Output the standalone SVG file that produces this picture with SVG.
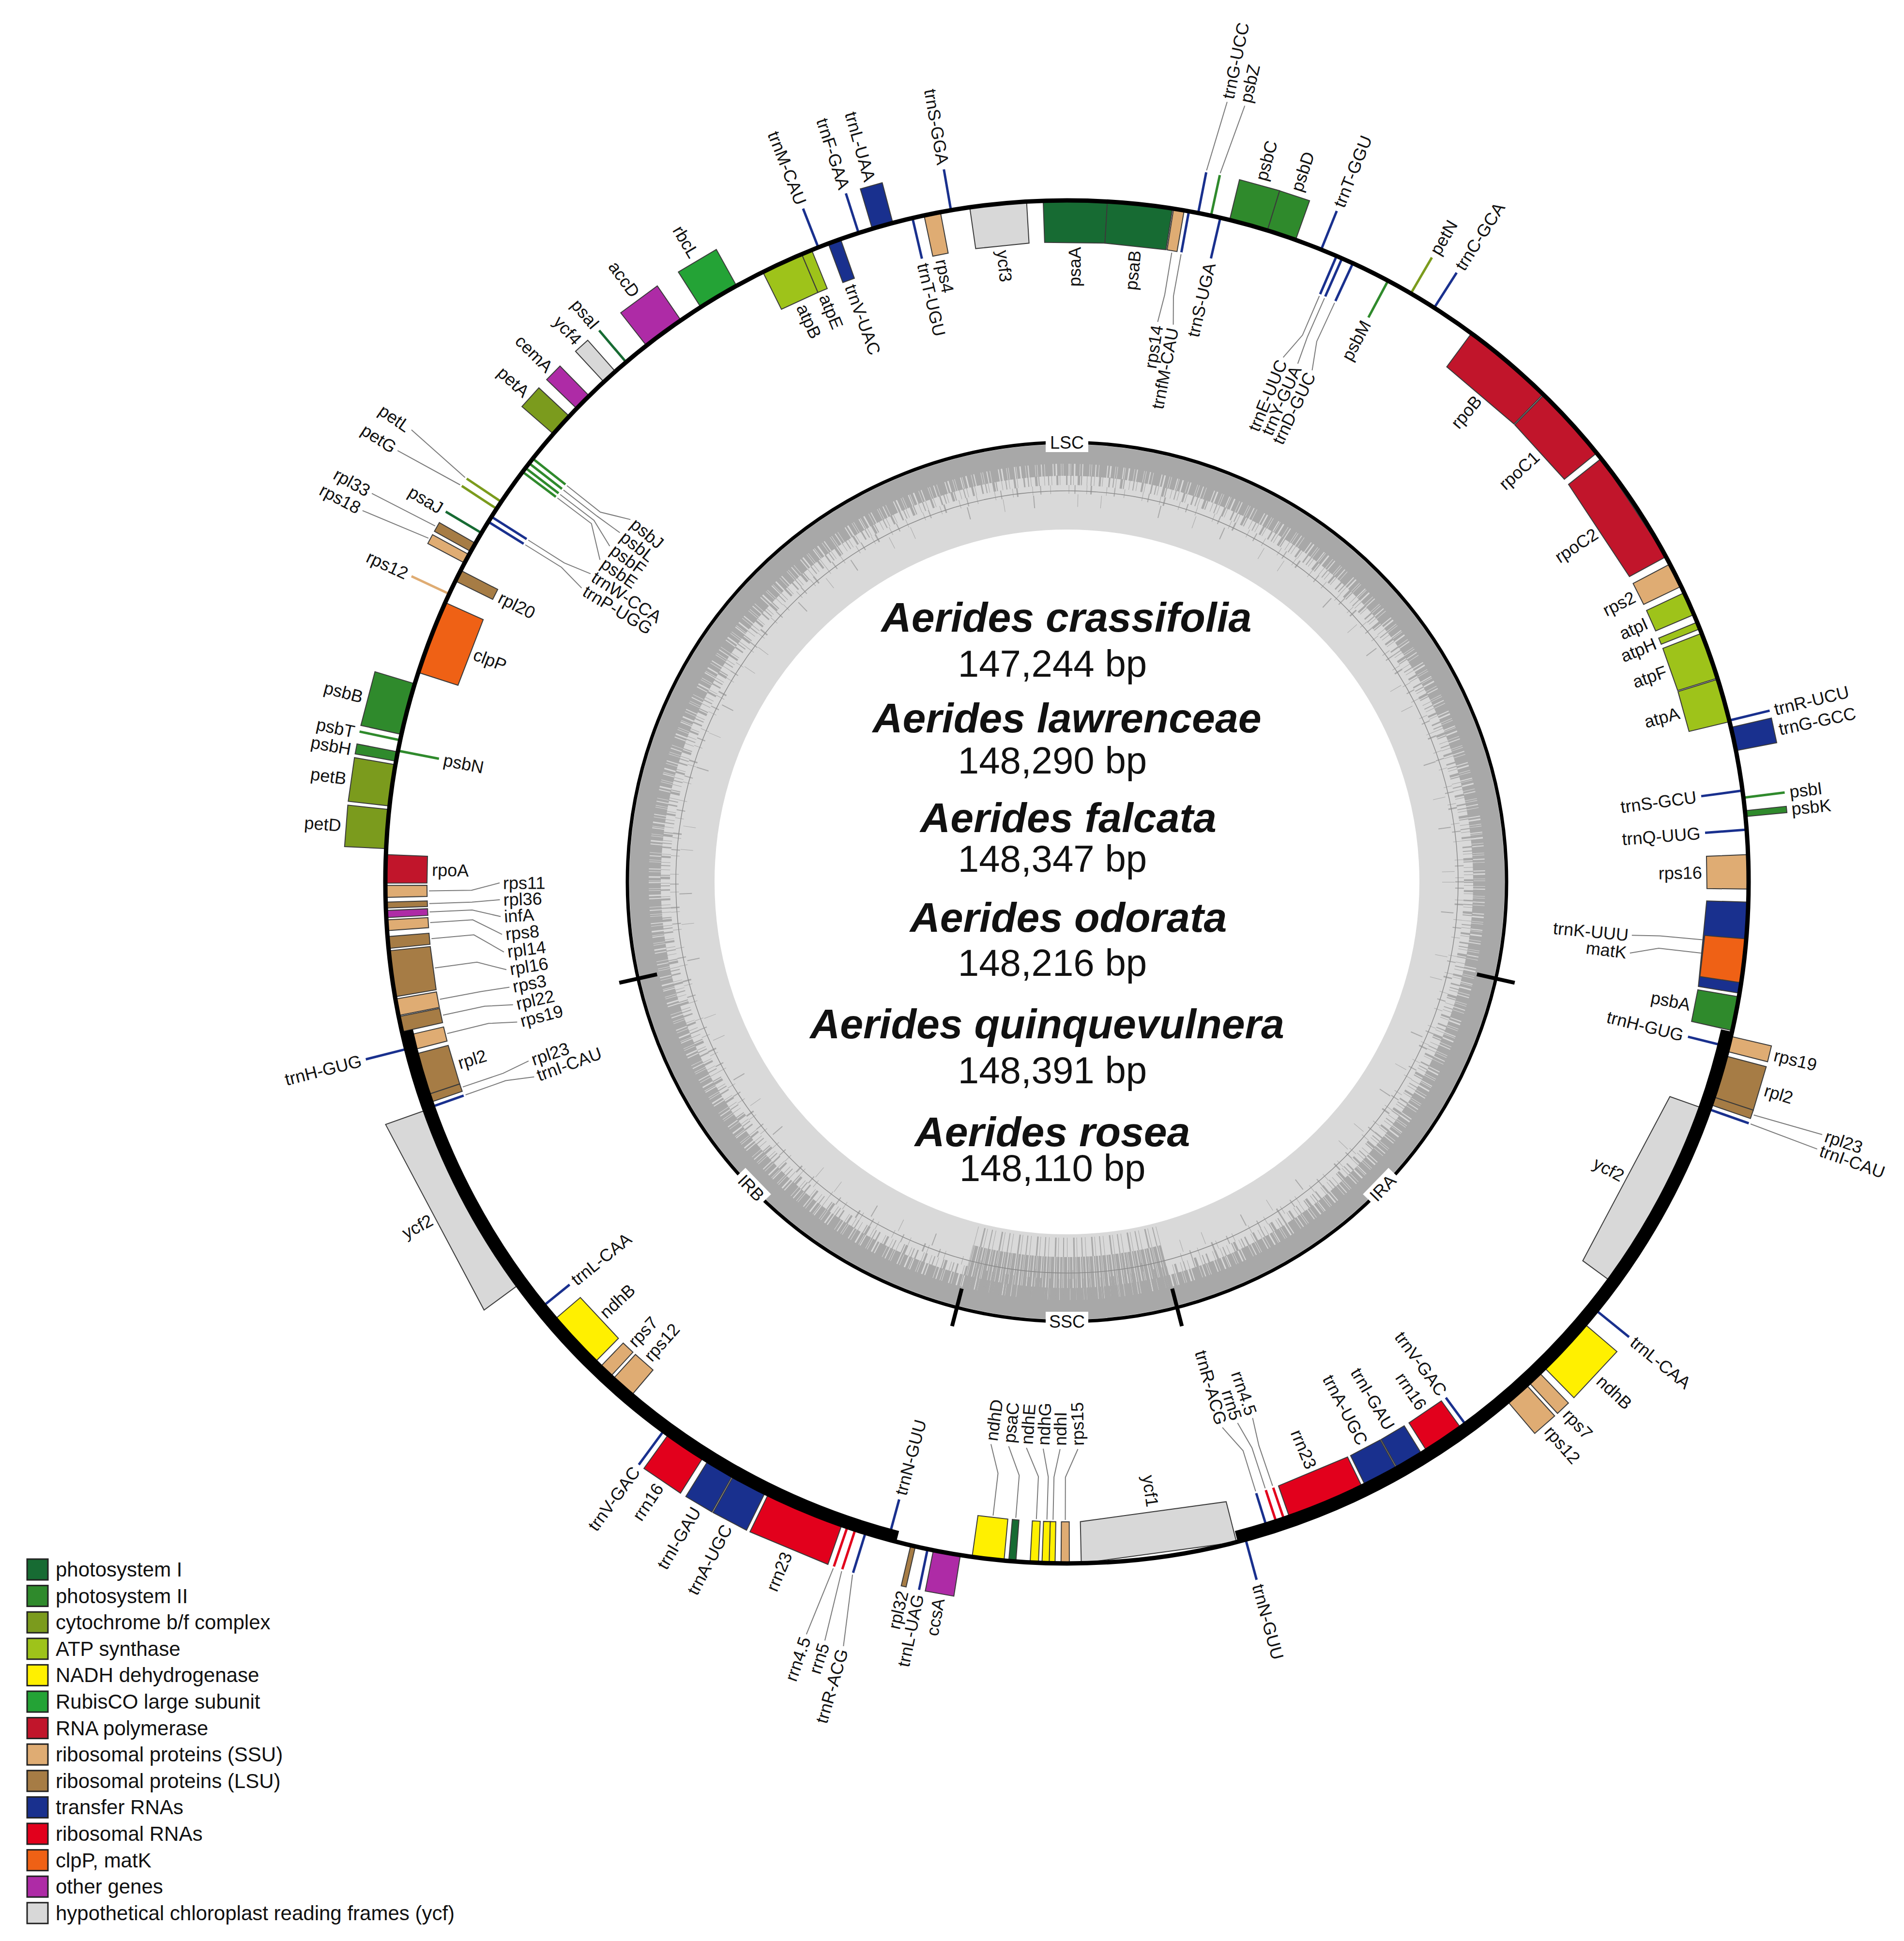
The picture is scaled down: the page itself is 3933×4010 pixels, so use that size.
<svg xmlns="http://www.w3.org/2000/svg" width="3933" height="4010" viewBox="0 0 3933 4010">
<style>
text{font-family:"Liberation Sans",Arial,Helvetica,sans-serif;fill:#111}
.t{font-size:36px}
.e{text-anchor:end}
.b{stroke:#3a3a3a;stroke-width:2}
.f1{fill:#176b33}.f2{fill:#2f8a2c}.f3{fill:#7b9b1d}.f4{fill:#9ec31a}.f5{fill:#fff000}.f6{fill:#24a336}.f7{fill:#c1152b}
.f8{fill:#dfac73}.f9{fill:#a67c45}.fa{fill:#19308e}.fb{fill:#e2001c}.fc{fill:#ef6115}.fd{fill:#ae2ba6}.fe{fill:#d8d8d8}
.k{fill:none;stroke-width:5}
.s1{stroke:#176b33}.s2{stroke:#2f8a2c}.s3{stroke:#7b9b1d}.s8{stroke:#dfac73}.sa{stroke:#19308e}.sb{stroke:#e2001c}
.ld{fill:none;stroke:#7a7a7a;stroke-width:2}
.sp{font-size:86px;font-weight:bold;font-style:italic;text-anchor:middle}
.bp{font-size:78px;text-anchor:middle}
.lg{stroke:#222;stroke-width:3}
.lt{font-size:42px}
.sec{font-size:36px;text-anchor:middle}
</style>
<rect width="3933" height="4010" fill="#fff"/>

<g id="gc-content" transform="translate(2204,1822)" fill="none">
<circle r="816" stroke="#d9d9d9" stroke-width="176"/>
<circle r="884" stroke="#a8a8a8" stroke-width="40"/>
<circle r="852" stroke="#a8a8a8" stroke-width="26" stroke-dasharray="9 1 4 2 13 1 3 1 7 2 5 1 16 2 4 3 8 1 3 1 11 2 2 1 6 3"/>
<circle r="830" stroke="#a8a8a8" stroke-width="20" stroke-dasharray="2 5 1 9 4 3 1 12 3 6 2 4 1 8 5 2 2 10 1 7"/>
<circle r="811" stroke="#a8a8a8" stroke-width="18" stroke-dasharray="1 11 2 23 1 7 3 30 1 15 2 19 1 37"/>
<circle r="788" stroke="#a8a8a8" stroke-width="26" stroke-dasharray="1 61 2 89 1 47 1 121 2 73"/>
<path d="M205.3,793.9A820,820 0 0 1 -205.3,793.9" stroke="#a8a8a8" stroke-width="90" stroke-dasharray="5 1 3 2 7 1 2 1 4 2"/>
<path d="M189,731A755,755 0 0 1 -189,731" stroke="#a8a8a8" stroke-width="40" stroke-dasharray="1 6 2 9 1 4 3 12"/>
<circle r="808" stroke="#8a8a8a" stroke-width="1.5"/>
<circle r="908" stroke="#000" stroke-width="7"/>
<g stroke="#000" stroke-width="8">
<path transform="rotate(102.7)" d="M0,-868V-948"/>
<path transform="rotate(165.5)" d="M0,-868V-948"/>
<path transform="rotate(194.5)" d="M0,-868V-948"/>
<path transform="rotate(257.3)" d="M0,-868V-948"/>
</g>
</g>

<g id="regions" transform="translate(2204,1822)">
<g id="LSC" transform="translate(0,-908)"><rect x="-44" y="-20" width="88" height="40" fill="#fff"/><text class="sec" y="13">LSC</text></g>
<g id="SSC" transform="translate(0,908)"><rect x="-44" y="-20" width="88" height="40" fill="#fff"/><text class="sec" y="13">SSC</text></g>
<g id="IRA" transform="rotate(-45.9)translate(0,908)"><rect x="-38" y="-20" width="76" height="40" fill="#fff"/><text class="sec" y="13">IRA</text></g>
<g id="IRB" transform="rotate(45.9)translate(0,908)"><rect x="-38" y="-20" width="76" height="40" fill="#fff"/><text class="sec" y="13">IRB</text></g>
</g>

<g id="species" >
<text class="sp" x="2203" y="1305">Aerides crassifolia</text>
<text class="bp" x="2174" y="1398">147,244 bp</text>
<text class="sp" x="2204" y="1513">Aerides lawrenceae</text>
<text class="bp" x="2174" y="1598">148,290 bp</text>
<text class="sp" x="2207" y="1719">Aerides falcata</text>
<text class="bp" x="2174" y="1801">148,347 bp</text>
<text class="sp" x="2207" y="1925">Aerides odorata</text>
<text class="bp" x="2174" y="2016">148,216 bp</text>
<text class="sp" x="2163" y="2145">Aerides quinquevulnera</text>
<text class="bp" x="2174" y="2238">148,391 bp</text>
<text class="sp" x="2174" y="2368">Aerides rosea</text>
<text class="bp" x="2174" y="2440">148,110 bp</text>
</g>

<g transform="translate(2204,1822)">
<g id="connectors">
<path class="ld" transform="rotate(9.45)" d="M0,-1318V-1230L-5.1,-1172"/>
<path class="ld" transform="rotate(10.3)" d="M0,-1318V-1230L10.2,-1172"/>
<path class="ld" transform="rotate(23.3)" d="M0,-1318V-1230L-18.4,-1171.9"/>
<path class="ld" transform="rotate(23.8)" d="M0,-1318V-1230L4.1,-1172"/>
<path class="ld" transform="rotate(24.8)" d="M0,-1318V-1230L16.4,-1171.9"/>
<path class="ld" transform="rotate(95.2)" d="M0,-1318V-1230L4.1,-1172"/>
<path class="ld" transform="rotate(96.4)" d="M0,-1318V-1230L16.4,-1171.9"/>
<path class="ld" transform="rotate(161.2)" d="M0,-1318V-1230L-6.1,-1172"/>
<path class="ld" transform="rotate(161.9)" d="M0,-1318V-1230L12.3,-1171.9"/>
<path class="ld" transform="rotate(162.8)" d="M0,-1318V-1230L26.6,-1171.7"/>
<path class="ld" transform="rotate(180.15)" d="M0,-1318V-1230L-25.6,-1171.7"/>
<path class="ld" transform="rotate(181.25)" d="M0,-1318V-1230L-11.3,-1171.9"/>
<path class="ld" transform="rotate(181.8)" d="M0,-1318V-1230L12.3,-1171.9"/>
<path class="ld" transform="rotate(182.75)" d="M0,-1318V-1230L27.6,-1171.7"/>
<path class="ld" transform="rotate(184.6)" d="M0,-1318V-1230L26.6,-1171.7"/>
<path class="ld" transform="rotate(186.65)" d="M0,-1318V-1230L21.5,-1171.8"/>
<path class="ld" transform="rotate(250.5)" d="M0,-1318V-1230L-12.3,-1171.9"/>
<path class="ld" transform="rotate(251.25)" d="M0,-1318V-1230L7.2,-1172"/>
<path class="ld" transform="rotate(256.25)" d="M0,-1318V-1230L-11.3,-1171.9"/>
<path class="ld" transform="rotate(257.95)" d="M0,-1318V-1230L-9.2,-1172"/>
<path class="ld" transform="rotate(259.4)" d="M0,-1318V-1230L-2,-1172"/>
<path class="ld" transform="rotate(262.25)" d="M0,-1318V-1230L-23.5,-1171.8"/>
<path class="ld" transform="rotate(264.9)" d="M0,-1318V-1230L-40.9,-1171.3"/>
<path class="ld" transform="rotate(266.35)" d="M0,-1318V-1230L-33.8,-1171.5"/>
<path class="ld" transform="rotate(267.3)" d="M0,-1318V-1230L-16.4,-1171.9"/>
<path class="ld" transform="rotate(268.05)" d="M0,-1318V-1230L3.1,-1172"/>
<path class="ld" transform="rotate(269.2)" d="M0,-1318V-1230L14.3,-1171.9"/>
<path class="ld" transform="rotate(301.9)" d="M0,-1318V-1230L-14.3,-1171.9"/>
<path class="ld" transform="rotate(302.4)" d="M0,-1318V-1230L10.2,-1172"/>
<path class="ld" transform="rotate(307)" d="M0,-1318V-1230L-49.1,-1171"/>
<path class="ld" transform="rotate(307.4)" d="M0,-1318V-1230L-22.5,-1171.8"/>
<path class="ld" transform="rotate(307.9)" d="M0,-1318V-1230L2,-1172"/>
<path class="ld" transform="rotate(308.4)" d="M0,-1318V-1230L26.6,-1171.7"/>
<path class="ld" transform="rotate(11.1)" d="M0,-1498L14.4,-1645"/>
<path class="ld" transform="rotate(12.2)" d="M0,-1498L20.1,-1644.9"/>
<path class="ld" transform="rotate(108.75)" d="M0,-1498L-7.2,-1645"/>
<path class="ld" transform="rotate(109.5)" d="M0,-1498L2.9,-1645"/>
<path class="ld" transform="rotate(197.2)" d="M0,-1498L-25.8,-1644.8"/>
<path class="ld" transform="rotate(198.1)" d="M0,-1498L-11.5,-1645"/>
<path class="ld" transform="rotate(198.8)" d="M0,-1498L8.6,-1645"/>
<path class="ld" transform="rotate(298.3)" d="M0,-1498L-14.4,-1645"/>
<path class="ld" transform="rotate(299.4)" d="M0,-1498L-5.7,-1645"/>
<path class="ld" transform="rotate(303.2)" d="M0,-1498L-11.5,-1645"/>
<path class="ld" transform="rotate(303.9)" d="M0,-1498L20.1,-1644.9"/>
</g>

<g id="genes">
<g id="psaA"><polygon class="b f1" transform="rotate(0.7)" points="-66.3,-1406.4 66.3,-1406.4 62.3,-1320.5 -62.3,-1320.5"/><text class="t e" transform="rotate(0.7)translate(0,-1312)rotate(-90)" dy=".35em">psaA</text></g>
<g id="psaB"><polygon class="b f1" transform="rotate(6.15)" points="-67.6,-1406.4 67.6,-1406.4 63.4,-1320.5 -63.4,-1320.5"/><text class="t e" transform="rotate(6.15)translate(0,-1312)rotate(-90)" dy=".35em">psaB</text></g>
<g id="rps14"><polygon class="b f8" transform="rotate(9.45)" points="-11.1,-1408 11.1,-1408 10.4,-1322 -10.4,-1322"/><text class="t e" transform="rotate(9.2)translate(0,-1165)rotate(-90)" dy=".35em">rps14</text></g>
<g id="trnfM-CAU"><path class="k sa" transform="rotate(10.3)" d="M0,-1408V-1322"/><text class="t e" transform="rotate(10.8)translate(0,-1165)rotate(-90)" dy=".35em">trnfM-CAU</text></g>
<g id="trnG-UCC"><path class="k sa" transform="rotate(11.1)" d="M0,-1408V-1494"/><text class="t" transform="rotate(11.6)translate(0,-1652)rotate(-90)" dy=".35em">trnG-UCC</text></g>
<g id="psbZ"><path class="k s2" transform="rotate(12.2)" d="M0,-1408V-1494"/><text class="t" transform="rotate(12.9)translate(0,-1652)rotate(-90)" dy=".35em">psbZ</text></g>
<g id="trnS-UGA"><path class="k sa" transform="rotate(13)" d="M0,-1408V-1322"/><text class="t e" transform="rotate(13)translate(0,-1312)rotate(-90)" dy=".35em">trnS-UGA</text></g>
<g id="psbC"><polygon class="b f2" transform="rotate(15.45)" points="-43,-1493.4 43,-1493.4 40.5,-1407.4 -40.5,-1407.4"/><text class="t" transform="rotate(15.45)translate(0,-1504)rotate(-90)" dy=".35em">psbC</text></g>
<g id="psbD"><polygon class="b f2" transform="rotate(18.35)" points="-32.6,-1493.6 32.6,-1493.6 30.7,-1407.7 -30.7,-1407.7"/><text class="t" transform="rotate(18.35)translate(0,-1504)rotate(-90)" dy=".35em">psbD</text></g>
<g id="trnT-GGU"><path class="k sa" transform="rotate(21.9)" d="M0,-1408V-1494"/><text class="t" transform="rotate(21.9)translate(0,-1504)rotate(-90)" dy=".35em">trnT-GGU</text></g>
<g id="trnE-UUC"><path class="k sa" transform="rotate(23.3)" d="M0,-1408V-1322"/><text class="t e" transform="rotate(22.4)translate(0,-1165)rotate(-90)" dy=".35em">trnE-UUC</text></g>
<g id="trnY-GUA"><path class="k sa" transform="rotate(23.8)" d="M0,-1408V-1322"/><text class="t e" transform="rotate(24)translate(0,-1165)rotate(-90)" dy=".35em">trnY-GUA</text></g>
<g id="trnD-GUC"><path class="k sa" transform="rotate(24.8)" d="M0,-1408V-1322"/><text class="t e" transform="rotate(25.6)translate(0,-1165)rotate(-90)" dy=".35em">trnD-GUC</text></g>
<g id="psbM"><path class="k s2" transform="rotate(28.1)" d="M0,-1408V-1322"/><text class="t e" transform="rotate(28.1)translate(0,-1312)rotate(-90)" dy=".35em">psbM</text></g>
<g id="petN"><path class="k s3" transform="rotate(30.3)" d="M0,-1408V-1494"/><text class="t" transform="rotate(30.3)translate(0,-1504)rotate(-90)" dy=".35em">petN</text></g>
<g id="trnC-GCA"><path class="k sa" transform="rotate(32.6)" d="M0,-1408V-1494"/><text class="t" transform="rotate(32.6)translate(0,-1504)rotate(-90)" dy=".35em">trnC-GCA</text></g>
<g id="rpoB"><polygon class="b f7" transform="rotate(40.35)" points="-97,-1404.6 97,-1404.6 91.1,-1318.9 -91.1,-1318.9"/><text class="t e" transform="rotate(40.35)translate(0,-1312)rotate(-90)" dy=".35em">rpoB</text></g>
<g id="rpoC1"><polygon class="b f7" transform="rotate(47.7)" points="-81,-1405.7 81,-1405.7 76.1,-1319.8 -76.1,-1319.8"/><text class="t e" transform="rotate(47.7)translate(0,-1312)rotate(-90)" dy=".35em">rpoC1</text></g>
<g id="rpoC2"><polygon class="b f7" transform="rotate(56.55)" points="-121.5,-1402.7 121.5,-1402.7 114.1,-1317.1 -114.1,-1317.1"/><text class="t e" transform="rotate(56.55)translate(0,-1310)rotate(-90)" dy=".35em">rpoC2</text></g>
<g id="rps2"><polygon class="b f8" transform="rotate(63.25)" points="-25.8,-1407.8 25.8,-1407.8 24.2,-1321.8 -24.2,-1321.8"/><text class="t e" transform="rotate(63.25)translate(0,-1312)rotate(-90)" dy=".35em">rps2</text></g>
<g id="atpI"><polygon class="b f4" transform="rotate(65.9)" points="-24.6,-1407.8 24.6,-1407.8 23.1,-1321.8 -23.1,-1321.8"/><text class="t e" transform="rotate(65.9)translate(0,-1312)rotate(-90)" dy=".35em">atpI</text></g>
<g id="atpH"><polygon class="b f4" transform="rotate(67.9)" points="-7.4,-1408 7.4,-1408 6.9,-1322 -6.9,-1322"/><text class="t e" transform="rotate(67.9)translate(0,-1312)rotate(-90)" dy=".35em">atpH</text></g>
<g id="atpF"><polygon class="b f4" transform="rotate(70.6)" points="-49.1,-1407.1 49.1,-1407.1 46.1,-1321.2 -46.1,-1321.2"/><text class="t e" transform="rotate(70.6)translate(0,-1312)rotate(-90)" dy=".35em">atpF</text></g>
<g id="atpA"><polygon class="b f4" transform="rotate(74.55)" points="-45.5,-1407.3 45.5,-1407.3 42.7,-1321.3 -42.7,-1321.3"/><text class="t e" transform="rotate(74.55)translate(0,-1312)rotate(-90)" dy=".35em">atpA</text></g>
<g id="trnR-UCU"><path class="k sa" transform="rotate(76.3)" d="M0,-1408V-1494"/><text class="t" transform="rotate(76.3)translate(0,-1504)rotate(-90)" dy=".35em">trnR-UCU</text></g>
<g id="trnG-GCC"><polygon class="b fa" transform="rotate(77.9)" points="-26.1,-1493.8 26.1,-1493.8 24.6,-1407.8 -24.6,-1407.8"/><text class="t" transform="rotate(77.9)translate(0,-1504)rotate(-90)" dy=".35em">trnG-GCC</text></g>
<g id="trnS-GCU"><path class="k sa" transform="rotate(82.3)" d="M0,-1408V-1322"/><text class="t e" transform="rotate(82.3)translate(0,-1312)rotate(-90)" dy=".35em">trnS-GCU</text></g>
<g id="psbI"><path class="k s2" transform="rotate(82.9)" d="M0,-1408V-1494"/><text class="t" transform="rotate(82.9)translate(0,-1504)rotate(-90)" dy=".35em">psbI</text></g>
<g id="psbK"><polygon class="b f2" transform="rotate(84.25)" points="-6.5,-1494 6.5,-1494 6.1,-1408 -6.1,-1408"/><text class="t" transform="rotate(84.25)translate(0,-1504)rotate(-90)" dy=".35em">psbK</text></g>
<g id="trnQ-UUG"><path class="k sa" transform="rotate(85.6)" d="M0,-1408V-1322"/><text class="t e" transform="rotate(85.6)translate(0,-1312)rotate(-90)" dy=".35em">trnQ-UUG</text></g>
<g id="rps16"><polygon class="b f8" transform="rotate(89.15)" points="-35.6,-1407.5 35.6,-1407.5 33.4,-1321.6 -33.4,-1321.6"/><text class="t e" transform="rotate(89.15)translate(0,-1312)rotate(-90)" dy=".35em">rps16</text></g>
<g id="trnK-UUU"><polygon class="b fa" transform="rotate(95.55)" points="-94.5,-1404.8 94.5,-1404.8 88.8,-1319 -88.8,-1319"/><text class="t e" transform="rotate(95.4)translate(0,-1165)rotate(-90)" dy=".35em">trnK-UUU</text></g>
<g id="matK"><polygon class="b fc" transform="rotate(96.65)" points="-45.5,-1405 45.5,-1405 42.7,-1321.3 -42.7,-1321.3"/><text class="t e" transform="rotate(97.2)translate(0,-1165)rotate(-90)" dy=".35em">matK</text></g>
<g id="psbA"><polygon class="b f2" transform="rotate(101.15)" points="-35.6,-1407.5 35.6,-1407.5 33.4,-1321.6 -33.4,-1321.6"/><text class="t e" transform="rotate(101.15)translate(0,-1312)rotate(-90)" dy=".35em">psbA</text></g>
<g id="rps19-IRA"><polygon class="b f8" transform="rotate(103.75)" points="-16.9,-1494 16.9,-1494 16,-1408 -16,-1408"/><text class="t" transform="rotate(103.75)translate(0,-1504)rotate(-90)" dy=".35em">rps19</text></g>
<g id="trnH-GUG-IRA"><path class="k sa" transform="rotate(104)" d="M0,-1408V-1322"/><text class="t e" transform="rotate(104)translate(0,-1312)rotate(-90)" dy=".35em">trnH-GUG</text></g>
<g id="rpl2-IRA"><polygon class="b f9" transform="rotate(106.6)" points="-46.9,-1493.3 46.9,-1493.3 44.2,-1407.3 -44.2,-1407.3"/><text class="t" transform="rotate(106.6)translate(0,-1504)rotate(-90)" dy=".35em">rpl2</text></g>
<g id="rpl23-IRA"><polygon class="b f9" transform="rotate(108.75)" points="-9.1,-1494 9.1,-1494 8.6,-1408 -8.6,-1408"/><text class="t" transform="rotate(108.5)translate(0,-1652)rotate(-90)" dy=".35em">rpl23</text></g>
<g id="trnI-CAU-IRA"><path class="k sa" transform="rotate(109.5)" d="M0,-1408V-1494"/><text class="t" transform="rotate(109.6)translate(0,-1652)rotate(-90)" dy=".35em">trnI-CAU</text></g>
<g id="ycf2-IRA"><polygon class="b fe" transform="rotate(117.95)" points="-204.5,-1393.1 204.5,-1393.1 192,-1308 -192,-1308"/><text class="t e" transform="rotate(117.95)translate(0,-1300)rotate(-90)" dy=".35em">ycf2</text></g>
<g id="trnL-CAA-IRA"><path class="k sa" transform="rotate(129)" d="M0,-1408V-1494"/><text class="t" transform="rotate(129)translate(0,-1504)rotate(-90)" dy=".35em">trnL-CAA</text></g>
<g id="ndhB-IRA"><polygon class="b f5" transform="rotate(133)" points="-65.2,-1492.6 65.2,-1492.6 61.4,-1406.7 -61.4,-1406.7"/><text class="t" transform="rotate(133)translate(0,-1504)rotate(-90)" dy=".35em">ndhB</text></g>
<g id="rps7-IRA"><polygon class="b f8" transform="rotate(136.7)" points="-15.6,-1494 15.6,-1494 14.7,-1408 -14.7,-1408"/><text class="t" transform="rotate(136.7)translate(0,-1504)rotate(-90)" dy=".35em">rps7</text></g>
<g id="rps12-IRA"><polygon class="b f8" transform="rotate(138.65)" points="-27.4,-1493.7 27.4,-1493.7 25.8,-1407.8 -25.8,-1407.8"/><text class="t" transform="rotate(138.65)translate(0,-1504)rotate(-90)" dy=".35em">rps12</text></g>
<g id="trnV-GAC-IRA"><path class="k sa" transform="rotate(143.7)" d="M0,-1408V-1322"/><text class="t e" transform="rotate(143.7)translate(0,-1312)rotate(-90)" dy=".35em">trnV-GAC</text></g>
<g id="rrn16-IRA"><polygon class="b fb" transform="rotate(145.95)" points="-43,-1407.3 43,-1407.3 40.4,-1321.4 -40.4,-1321.4"/><text class="t e" transform="rotate(145.95)translate(0,-1312)rotate(-90)" dy=".35em">rrn16</text></g>
<g id="trnI-GAU-IRA"><polygon class="b fa" transform="rotate(149.4)" points="-29.5,-1407.7 29.5,-1407.7 27.7,-1321.7 -27.7,-1321.7"/><text class="t e" transform="rotate(149.4)translate(0,-1312)rotate(-90)" dy=".35em">trnI-GAU</text></g>
<g id="trnA-UGC-IRA"><polygon class="b fa" transform="rotate(152.2)" points="-36.9,-1407.5 36.9,-1407.5 34.6,-1321.6 -34.6,-1321.6"/><text class="t e" transform="rotate(152.2)translate(0,-1312)rotate(-90)" dy=".35em">trnA-UGC</text></g>
<g id="rrn23-IRA"><polygon class="b fb" transform="rotate(157.35)" points="-82.3,-1405.6 82.3,-1405.6 77.3,-1319.7 -77.3,-1319.7"/><text class="t e" transform="rotate(157.35)translate(0,-1312)rotate(-90)" dy=".35em">rrn23</text></g>
<g id="rrn4.5-IRA"><path class="k sb" transform="rotate(161.2)" d="M0,-1408V-1322"/><text class="t e" transform="rotate(160.9)translate(0,-1165)rotate(-90)" dy=".35em">rrn4.5</text></g>
<g id="rrn5-IRA"><path class="k sb" transform="rotate(161.9)" d="M0,-1408V-1322"/><text class="t e" transform="rotate(162.5)translate(0,-1165)rotate(-90)" dy=".35em">rrn5</text></g>
<g id="trnR-ACG-IRA"><path class="k sa" transform="rotate(162.8)" d="M0,-1408V-1322"/><text class="t e" transform="rotate(164.1)translate(0,-1165)rotate(-90)" dy=".35em">trnR-ACG</text></g>
<g id="trnN-GUU-IRA"><path class="k sa" transform="rotate(164.8)" d="M0,-1408V-1494"/><text class="t" transform="rotate(164.8)translate(0,-1504)rotate(-90)" dy=".35em">trnN-GUU</text></g>
<g id="ycf1"><polygon class="b fe" transform="rotate(172.2)" points="-161.8,-1398.7 161.8,-1398.7 152,-1313.2 -152,-1313.2"/><text class="t e" transform="rotate(172.2)translate(0,-1303)rotate(-90)" dy=".35em">ycf1</text></g>
<g id="rps15"><polygon class="b f8" transform="rotate(180.15)" points="-8.6,-1408 8.6,-1408 8.1,-1322 -8.1,-1322"/><text class="t" transform="rotate(178.9)translate(0,-1165)rotate(90)" dy=".35em">rps15</text></g>
<g id="ndhI"><polygon class="b f5" transform="rotate(181.25)" points="-6.1,-1408 6.1,-1408 5.8,-1322 -5.8,-1322"/><text class="t" transform="rotate(180.7)translate(0,-1165)rotate(90)" dy=".35em">ndhI</text></g>
<g id="ndhG"><polygon class="b f5" transform="rotate(181.8)" points="-7.4,-1408 7.4,-1408 6.9,-1322 -6.9,-1322"/><text class="t" transform="rotate(182.4)translate(0,-1165)rotate(90)" dy=".35em">ndhG</text></g>
<g id="ndhE"><polygon class="b f5" transform="rotate(182.75)" points="-8.6,-1408 8.6,-1408 8.1,-1322 -8.1,-1322"/><text class="t" transform="rotate(184.1)translate(0,-1165)rotate(90)" dy=".35em">ndhE</text></g>
<g id="psaC"><polygon class="b f1" transform="rotate(184.6)" points="-7.4,-1408 7.4,-1408 6.9,-1322 -6.9,-1322"/><text class="t" transform="rotate(185.9)translate(0,-1165)rotate(90)" dy=".35em">psaC</text></g>
<g id="ndhD"><polygon class="b f5" transform="rotate(186.65)" points="-33.2,-1407.6 33.2,-1407.6 31.1,-1321.6 -31.1,-1321.6"/><text class="t" transform="rotate(187.7)translate(0,-1165)rotate(90)" dy=".35em">ndhD</text></g>
<g id="ccsA"><polygon class="b fd" transform="rotate(190.15)" points="-30,-1493.7 30,-1493.7 28.3,-1407.7 -28.3,-1407.7"/><text class="t e" transform="rotate(190.15)translate(0,-1504)rotate(90)" dy=".35em">ccsA</text></g>
<g id="trnL-UAG"><path class="k sa" transform="rotate(191.8)" d="M0,-1408V-1494"/><text class="t e" transform="rotate(191.8)translate(0,-1504)rotate(90)" dy=".35em">trnL-UAG</text></g>
<g id="rpl32"><polygon class="b f9" transform="rotate(193.05)" points="-5.2,-1494 5.2,-1494 4.9,-1408 -4.9,-1408"/><text class="t e" transform="rotate(193.05)translate(0,-1504)rotate(90)" dy=".35em">rpl32</text></g>
<g id="trnN-GUU-IRB"><path class="k sa" transform="rotate(195.2)" d="M0,-1408V-1322"/><text class="t" transform="rotate(195.2)translate(0,-1312)rotate(90)" dy=".35em">trnN-GUU</text></g>
<g id="trnR-ACG-IRB"><path class="k sa" transform="rotate(197.2)" d="M0,-1408V-1494"/><text class="t e" transform="rotate(196.3)translate(0,-1652)rotate(90)" dy=".35em">trnR-ACG</text></g>
<g id="rrn5-IRB"><path class="k sb" transform="rotate(198.1)" d="M0,-1408V-1494"/><text class="t e" transform="rotate(197.7)translate(0,-1652)rotate(90)" dy=".35em">rrn5</text></g>
<g id="rrn4.5-IRB"><path class="k sb" transform="rotate(198.8)" d="M0,-1408V-1494"/><text class="t e" transform="rotate(199.1)translate(0,-1652)rotate(90)" dy=".35em">rrn4.5</text></g>
<g id="rrn23-IRB"><polygon class="b fb" transform="rotate(202.65)" points="-87.3,-1491.4 87.3,-1491.4 82.3,-1405.6 -82.3,-1405.6"/><text class="t e" transform="rotate(202.65)translate(0,-1502)rotate(90)" dy=".35em">rrn23</text></g>
<g id="trnA-UGC-IRB"><polygon class="b fa" transform="rotate(207.8)" points="-39.1,-1493.5 39.1,-1493.5 36.9,-1407.5 -36.9,-1407.5"/><text class="t e" transform="rotate(207.8)translate(0,-1504)rotate(90)" dy=".35em">trnA-UGC</text></g>
<g id="trnI-GAU-IRB"><polygon class="b fa" transform="rotate(210.6)" points="-31.3,-1493.7 31.3,-1493.7 29.5,-1407.7 -29.5,-1407.7"/><text class="t e" transform="rotate(210.6)translate(0,-1504)rotate(90)" dy=".35em">trnI-GAU</text></g>
<g id="rrn16-IRB"><polygon class="b fb" transform="rotate(214.05)" points="-45.6,-1493.3 45.6,-1493.3 43,-1407.3 -43,-1407.3"/><text class="t e" transform="rotate(214.05)translate(0,-1504)rotate(90)" dy=".35em">rrn16</text></g>
<g id="trnV-GAC-IRB"><path class="k sa" transform="rotate(216.3)" d="M0,-1408V-1494"/><text class="t e" transform="rotate(216.3)translate(0,-1504)rotate(90)" dy=".35em">trnV-GAC</text></g>
<g id="rps12-IRB"><polygon class="b f8" transform="rotate(221.35)" points="-25.8,-1407.8 25.8,-1407.8 24.2,-1321.8 -24.2,-1321.8"/><text class="t" transform="rotate(221.35)translate(0,-1312)rotate(90)" dy=".35em">rps12</text></g>
<g id="rps7-IRB"><polygon class="b f8" transform="rotate(223.3)" points="-14.7,-1408 14.7,-1408 13.8,-1322 -13.8,-1322"/><text class="t" transform="rotate(223.3)translate(0,-1312)rotate(90)" dy=".35em">rps7</text></g>
<g id="ndhB-IRB"><polygon class="b f5" transform="rotate(227)" points="-61.4,-1406.7 61.4,-1406.7 57.7,-1320.7 -57.7,-1320.7"/><text class="t" transform="rotate(227)translate(0,-1312)rotate(90)" dy=".35em">ndhB</text></g>
<g id="trnL-CAA-IRB"><path class="k sa" transform="rotate(231)" d="M0,-1408V-1322"/><text class="t" transform="rotate(231)translate(0,-1312)rotate(90)" dy=".35em">trnL-CAA</text></g>
<g id="ycf2-IRB"><polygon class="b fe" transform="rotate(242.05)" points="-217,-1478.2 217,-1478.2 204.5,-1393.1 -204.5,-1393.1"/><text class="t e" transform="rotate(242.05)translate(0,-1486)rotate(90)" dy=".35em">ycf2</text></g>
<g id="trnI-CAU-IRB"><path class="k sa" transform="rotate(250.5)" d="M0,-1408V-1322"/><text class="t" transform="rotate(249.9)translate(0,-1165)rotate(90)" dy=".35em">trnI-CAU</text></g>
<g id="rpl23-IRB"><polygon class="b f9" transform="rotate(251.25)" points="-8.6,-1408 8.6,-1408 8.1,-1322 -8.1,-1322"/><text class="t" transform="rotate(251.6)translate(0,-1165)rotate(90)" dy=".35em">rpl23</text></g>
<g id="rpl2-IRB"><polygon class="b f9" transform="rotate(253.4)" points="-44.2,-1407.3 44.2,-1407.3 41.5,-1321.4 -41.5,-1321.4"/><text class="t" transform="rotate(253.4)translate(0,-1312)rotate(90)" dy=".35em">rpl2</text></g>
<g id="trnH-GUG-IRB"><path class="k sa" transform="rotate(255.8)" d="M0,-1408V-1494"/><text class="t e" transform="rotate(255.8)translate(0,-1504)rotate(90)" dy=".35em">trnH-GUG</text></g>
<g id="rps19-IRB"><polygon class="b f8" transform="rotate(256.25)" points="-16,-1408 16,-1408 15,-1322 -15,-1322"/><text class="t" transform="rotate(255.7)translate(0,-1165)rotate(90)" dy=".35em">rps19</text></g>
<g id="rpl22"><polygon class="b f9" transform="rotate(257.95)" points="-16,-1408 16,-1408 15,-1322 -15,-1322"/><text class="t" transform="rotate(257.5)translate(0,-1165)rotate(90)" dy=".35em">rpl22</text></g>
<g id="rps3"><polygon class="b f8" transform="rotate(259.4)" points="-17.2,-1408 17.2,-1408 16.2,-1322 -16.2,-1322"/><text class="t" transform="rotate(259.3)translate(0,-1165)rotate(90)" dy=".35em">rps3</text></g>
<g id="rpl16"><polygon class="b f9" transform="rotate(262.25)" points="-47.9,-1407.2 47.9,-1407.2 45,-1321.2 -45,-1321.2"/><text class="t" transform="rotate(261.1)translate(0,-1165)rotate(90)" dy=".35em">rpl16</text></g>
<g id="rpl14"><polygon class="b f9" transform="rotate(264.9)" points="-12.3,-1408 12.3,-1408 11.5,-1322 -11.5,-1322"/><text class="t" transform="rotate(262.9)translate(0,-1165)rotate(90)" dy=".35em">rpl14</text></g>
<g id="rps8"><polygon class="b f8" transform="rotate(266.35)" points="-11.1,-1408 11.1,-1408 10.4,-1322 -10.4,-1322"/><text class="t" transform="rotate(264.7)translate(0,-1165)rotate(90)" dy=".35em">rps8</text></g>
<g id="infA"><polygon class="b fd" transform="rotate(267.3)" points="-7.4,-1408 7.4,-1408 6.9,-1322 -6.9,-1322"/><text class="t" transform="rotate(266.5)translate(0,-1165)rotate(90)" dy=".35em">infA</text></g>
<g id="rpl36"><polygon class="b f9" transform="rotate(268.05)" points="-6.1,-1408 6.1,-1408 5.8,-1322 -5.8,-1322"/><text class="t" transform="rotate(268.2)translate(0,-1165)rotate(90)" dy=".35em">rpl36</text></g>
<g id="rps11"><polygon class="b f8" transform="rotate(269.2)" points="-12.3,-1408 12.3,-1408 11.5,-1322 -11.5,-1322"/><text class="t" transform="rotate(269.9)translate(0,-1165)rotate(90)" dy=".35em">rps11</text></g>
<g id="rpoA"><polygon class="b f7" transform="rotate(271.1)" points="-29.5,-1407.7 29.5,-1407.7 27.7,-1321.7 -27.7,-1321.7"/><text class="t" transform="rotate(271.1)translate(0,-1312)rotate(90)" dy=".35em">rpoA</text></g>
<g id="petD"><polygon class="b f3" transform="rotate(274.45)" points="-43,-1493.4 43,-1493.4 40.5,-1407.4 -40.5,-1407.4"/><text class="t e" transform="rotate(274.45)translate(0,-1504)rotate(90)" dy=".35em">petD</text></g>
<g id="petB"><polygon class="b f3" transform="rotate(278.15)" points="-45.6,-1493.3 45.6,-1493.3 43,-1407.3 -43,-1407.3"/><text class="t e" transform="rotate(278.15)translate(0,-1504)rotate(90)" dy=".35em">petB</text></g>
<g id="psbH"><polygon class="b f2" transform="rotate(280.6)" points="-10.4,-1494 10.4,-1494 9.8,-1408 -9.8,-1408"/><text class="t e" transform="rotate(280.5)translate(0,-1504)rotate(90)" dy=".35em">psbH</text></g>
<g id="psbN"><path class="k s2" transform="rotate(281.1)" d="M0,-1408V-1322"/><text class="t" transform="rotate(281.1)translate(0,-1312)rotate(90)" dy=".35em">psbN</text></g>
<g id="psbT"><path class="k s2" transform="rotate(282)" d="M0,-1408V-1494"/><text class="t e" transform="rotate(281.9)translate(0,-1504)rotate(90)" dy=".35em">psbT</text></g>
<g id="psbB"><polygon class="b f2" transform="rotate(284.7)" points="-57.4,-1492.9 57.4,-1492.9 54.1,-1407 -54.1,-1407"/><text class="t e" transform="rotate(284.7)translate(0,-1504)rotate(90)" dy=".35em">psbB</text></g>
<g id="clpP"><polygon class="b fc" transform="rotate(291.05)" points="-77.4,-1405.9 77.4,-1405.9 72.6,-1320 -72.6,-1320"/><text class="t" transform="rotate(291.05)translate(0,-1312)rotate(90)" dy=".35em">clpP</text></g>
<g id="rps12-5end"><path class="k s8" transform="rotate(295)" d="M0,-1408V-1494"/><text class="t e" transform="rotate(295)translate(0,-1504)rotate(90)" dy=".35em">rps12</text></g>
<g id="rpl20"><polygon class="b f9" transform="rotate(296.7)" points="-12.3,-1408 12.3,-1408 11.5,-1322 -11.5,-1322"/><text class="t" transform="rotate(296.7)translate(0,-1312)rotate(90)" dy=".35em">rpl20</text></g>
<g id="rps18"><polygon class="b f8" transform="rotate(298.3)" points="-10.4,-1494 10.4,-1494 9.8,-1408 -9.8,-1408"/><text class="t e" transform="rotate(297.8)translate(0,-1652)rotate(90)" dy=".35em">rps18</text></g>
<g id="rpl33"><polygon class="b f9" transform="rotate(299.4)" points="-10.4,-1494 10.4,-1494 9.8,-1408 -9.8,-1408"/><text class="t e" transform="rotate(299.2)translate(0,-1652)rotate(90)" dy=".35em">rpl33</text></g>
<g id="psaJ"><path class="k s1" transform="rotate(300.8)" d="M0,-1408V-1494"/><text class="t e" transform="rotate(300.8)translate(0,-1504)rotate(90)" dy=".35em">psaJ</text></g>
<g id="trnP-UGG"><path class="k sa" transform="rotate(301.9)" d="M0,-1408V-1322"/><text class="t" transform="rotate(301.2)translate(0,-1165)rotate(90)" dy=".35em">trnP-UGG</text></g>
<g id="trnW-CCA"><path class="k sa" transform="rotate(302.4)" d="M0,-1408V-1322"/><text class="t" transform="rotate(302.9)translate(0,-1165)rotate(90)" dy=".35em">trnW-CCA</text></g>
<g id="petG"><path class="k s3" transform="rotate(303.2)" d="M0,-1408V-1494"/><text class="t e" transform="rotate(302.8)translate(0,-1652)rotate(90)" dy=".35em">petG</text></g>
<g id="petL"><path class="k s3" transform="rotate(303.9)" d="M0,-1408V-1494"/><text class="t e" transform="rotate(304.6)translate(0,-1652)rotate(90)" dy=".35em">petL</text></g>
<g id="psbE"><path class="k s2" transform="rotate(307)" d="M0,-1408V-1322"/><text class="t" transform="rotate(304.6)translate(0,-1165)rotate(90)" dy=".35em">psbE</text></g>
<g id="psbF"><path class="k s2" transform="rotate(307.4)" d="M0,-1408V-1322"/><text class="t" transform="rotate(306.3)translate(0,-1165)rotate(90)" dy=".35em">psbF</text></g>
<g id="psbL"><path class="k s2" transform="rotate(307.9)" d="M0,-1408V-1322"/><text class="t" transform="rotate(308)translate(0,-1165)rotate(90)" dy=".35em">psbL</text></g>
<g id="psbJ"><path class="k s2" transform="rotate(308.4)" d="M0,-1408V-1322"/><text class="t" transform="rotate(309.7)translate(0,-1165)rotate(90)" dy=".35em">psbJ</text></g>
<g id="petA"><polygon class="b f3" transform="rotate(312.1)" points="-26.1,-1493.8 26.1,-1493.8 24.6,-1407.8 -24.6,-1407.8"/><text class="t e" transform="rotate(312.1)translate(0,-1504)rotate(90)" dy=".35em">petA</text></g>
<g id="cemA"><polygon class="b fd" transform="rotate(314.75)" points="-19.6,-1494 19.6,-1494 18.4,-1408 -18.4,-1408"/><text class="t e" transform="rotate(314.75)translate(0,-1504)rotate(90)" dy=".35em">cemA</text></g>
<g id="ycf4"><polygon class="b fe" transform="rotate(317.85)" points="-17,-1494 17,-1494 16,-1408 -16,-1408"/><text class="t e" transform="rotate(317.85)translate(0,-1504)rotate(90)" dy=".35em">ycf4</text></g>
<g id="psaI"><path class="k s1" transform="rotate(319.7)" d="M0,-1408V-1494"/><text class="t e" transform="rotate(319.7)translate(0,-1504)rotate(90)" dy=".35em">psaI</text></g>
<g id="accD"><polygon class="b fd" transform="rotate(323.7)" points="-46.9,-1493.3 46.9,-1493.3 44.2,-1407.3 -44.2,-1407.3"/><text class="t e" transform="rotate(323.7)translate(0,-1504)rotate(90)" dy=".35em">accD</text></g>
<g id="rbcL"><polygon class="b f6" transform="rotate(329.25)" points="-45.6,-1493.3 45.6,-1493.3 43,-1407.3 -43,-1407.3"/><text class="t e" transform="rotate(329.25)translate(0,-1504)rotate(90)" dy=".35em">rbcL</text></g>
<g id="atpB"><polygon class="b f4" transform="rotate(335.3)" points="-44.2,-1407.3 44.2,-1407.3 41.5,-1321.4 -41.5,-1321.4"/><text class="t" transform="rotate(335.3)translate(0,-1312)rotate(90)" dy=".35em">atpB</text></g>
<g id="atpE"><polygon class="b f4" transform="rotate(337.55)" points="-11.1,-1408 11.1,-1408 10.4,-1322 -10.4,-1322"/><text class="t" transform="rotate(337.55)translate(0,-1312)rotate(90)" dy=".35em">atpE</text></g>
<g id="trnM-CAU"><path class="k sa" transform="rotate(338.6)" d="M0,-1408V-1494"/><text class="t e" transform="rotate(338.6)translate(0,-1504)rotate(90)" dy=".35em">trnM-CAU</text></g>
<g id="trnV-UAC"><polygon class="b fa" transform="rotate(340.05)" points="-13.5,-1408 13.5,-1408 12.7,-1322 -12.7,-1322"/><text class="t" transform="rotate(340.05)translate(0,-1312)rotate(90)" dy=".35em">trnV-UAC</text></g>
<g id="trnF-GAA"><path class="k sa" transform="rotate(342.2)" d="M0,-1408V-1494"/><text class="t e" transform="rotate(342.2)translate(0,-1504)rotate(90)" dy=".35em">trnF-GAA</text></g>
<g id="trnL-UAA"><polygon class="b fa" transform="rotate(344.3)" points="-23.5,-1493.8 23.5,-1493.8 22.1,-1407.8 -22.1,-1407.8"/><text class="t e" transform="rotate(344.3)translate(0,-1504)rotate(90)" dy=".35em">trnL-UAA</text></g>
<g id="trnT-UGU"><path class="k sa" transform="rotate(346.9)" d="M0,-1408V-1322"/><text class="t" transform="rotate(346.9)translate(0,-1312)rotate(90)" dy=".35em">trnT-UGU</text></g>
<g id="rps4"><polygon class="b f8" transform="rotate(348.6)" points="-17.2,-1408 17.2,-1408 16.2,-1322 -16.2,-1322"/><text class="t" transform="rotate(348.6)translate(0,-1312)rotate(90)" dy=".35em">rps4</text></g>
<g id="trnS-GGA"><path class="k sa" transform="rotate(350.2)" d="M0,-1408V-1494"/><text class="t e" transform="rotate(350.2)translate(0,-1504)rotate(90)" dy=".35em">trnS-GGA</text></g>
<g id="ycf3"><polygon class="b fe" transform="rotate(354.2)" points="-59,-1406.8 59,-1406.8 55.4,-1320.8 -55.4,-1320.8"/><text class="t" transform="rotate(354.2)translate(0,-1312)rotate(90)" dy=".35em">ycf3</text></g>
</g>

<g id="genome-circle" fill="none" stroke="#000">
<circle r="1408" stroke-width="9"/>
<path d="M1362.8,307.1A1397,1397 0 0 1 349.8,1352.5" stroke-width="24"/>
<path d="M-349.8,1352.5A1397,1397 0 0 1 -1362.8,307.1" stroke-width="24"/>
</g>
</g>

<g id="legend">
<rect class="f1 lg" x="56" y="3221" width="43" height="43"/><text class="lt" x="115" y="3257">photosystem I</text>
<rect class="f2 lg" x="56" y="3275.6" width="43" height="43"/><text class="lt" x="115" y="3311.6">photosystem II</text>
<rect class="f3 lg" x="56" y="3330.2" width="43" height="43"/><text class="lt" x="115" y="3366.2">cytochrome b/f complex</text>
<rect class="f4 lg" x="56" y="3384.8" width="43" height="43"/><text class="lt" x="115" y="3420.8">ATP synthase</text>
<rect class="f5 lg" x="56" y="3439.4" width="43" height="43"/><text class="lt" x="115" y="3475.4">NADH dehydrogenase</text>
<rect class="f6 lg" x="56" y="3494" width="43" height="43"/><text class="lt" x="115" y="3530">RubisCO large subunit</text>
<rect class="f7 lg" x="56" y="3548.6" width="43" height="43"/><text class="lt" x="115" y="3584.6">RNA polymerase</text>
<rect class="f8 lg" x="56" y="3603.2" width="43" height="43"/><text class="lt" x="115" y="3639.2">ribosomal proteins (SSU)</text>
<rect class="f9 lg" x="56" y="3657.8" width="43" height="43"/><text class="lt" x="115" y="3693.8">ribosomal proteins (LSU)</text>
<rect class="fa lg" x="56" y="3712.4" width="43" height="43"/><text class="lt" x="115" y="3748.4">transfer RNAs</text>
<rect class="fb lg" x="56" y="3767" width="43" height="43"/><text class="lt" x="115" y="3803">ribosomal RNAs</text>
<rect class="fc lg" x="56" y="3821.6" width="43" height="43"/><text class="lt" x="115" y="3857.6">clpP, matK</text>
<rect class="fd lg" x="56" y="3876.2" width="43" height="43"/><text class="lt" x="115" y="3912.2">other genes</text>
<rect class="fe lg" x="56" y="3930.8" width="43" height="43"/><text class="lt" x="115" y="3966.8">hypothetical chloroplast reading frames (ycf)</text>
</g>
</svg>
